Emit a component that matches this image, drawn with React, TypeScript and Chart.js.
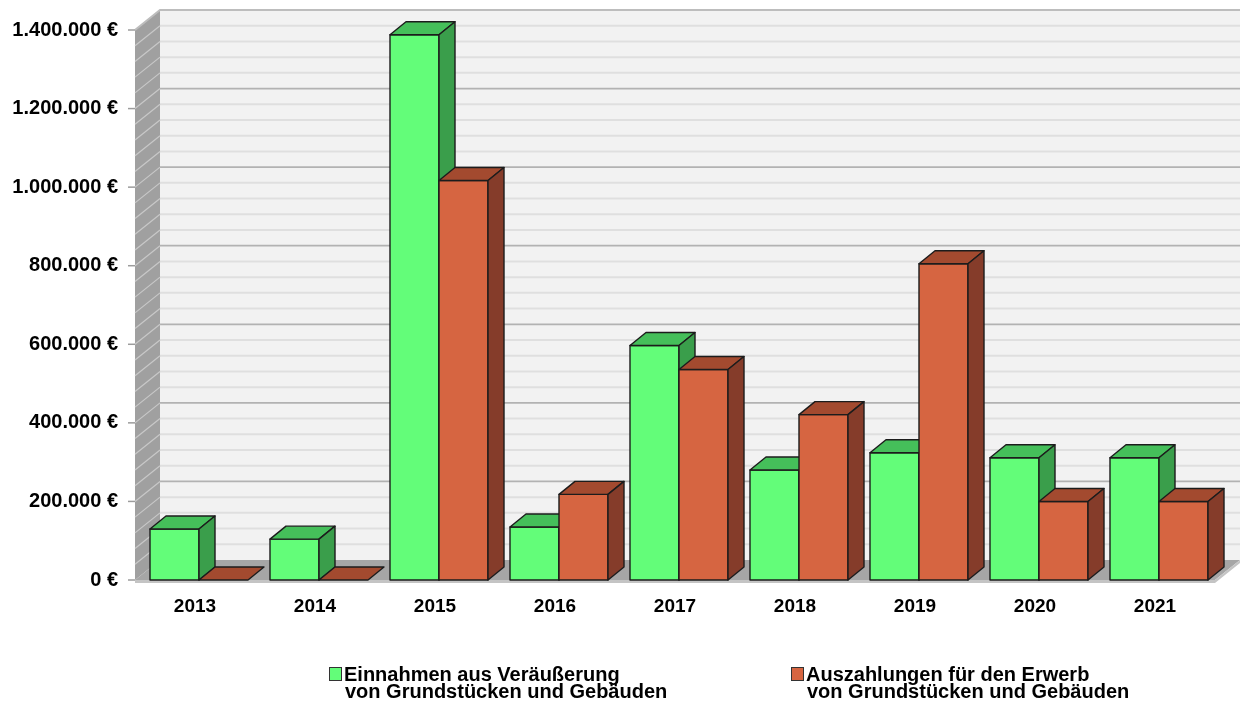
import { useEffect, useRef } from 'react';
import { Chart, registerables } from 'chart.js';

Chart.register(...registerables);

const YEARS = ['2013', '2014', '2015', '2016', '2017', '2018', '2019', '2020', '2021'];
const EINNAHMEN = [130000, 104000, 1388000, 135000, 597000, 280000, 324000, 311000, 311000];
const AUSZAHLUNGEN = [0, 0, 1017000, 218000, 536000, 421000, 805000, 200000, 200000];
const Y_MIN = 0;
const Y_MAX = 1400000;
const Y_STEP = 200000;
const MINOR_STEP = 40000;
const LEGEND_LABELS = [
  ['Einnahmen aus Veräußerung', 'von Grundstücken und Gebäuden'],
  ['Auszahlungen für den Erwerb', 'von Grundstücken und Gebäuden'],
];

const FONT = '"Liberation Sans", Arial, sans-serif';
const SERIES_STYLE = [
  { front: '#63fd79', top: '#45bf5a', side: '#3a9e4b' },
  { front: '#d66541', top: '#a34a2f', side: '#853c2a' },
];

const WALL_DX = 25;
const WALL_DY = -20;
const BAR_DX = 16;
const BAR_DY = -13;
const FRONT_SHIFT = 4;

function fmt(v: number): string {
  return String(Math.round(v)).replace(/\B(?=(\d{3})+(?!\d))/g, '.') + ' €';
}

const wallsPlugin = {
  id: 'walls3d',
  beforeDatasetsDraw(chart: any) {
    const { ctx, chartArea, scales } = chart;
    const ys = scales.y;
    const x0 = chartArea.left - FRONT_SHIFT;
    const x1 = chartArea.right - FRONT_SHIFT;
    const yb = ys.getPixelForValue(Y_MIN);
    const yt = ys.getPixelForValue(Y_MAX);
    ctx.save();
    ctx.fillStyle = '#f2f2f2';
    ctx.fillRect(x0 + WALL_DX, yt + WALL_DY, x1 - x0, yb - yt);
    for (let v = Y_MIN + MINOR_STEP; v < Y_MAX; v += MINOR_STEP) {
      const yy = ys.getPixelForValue(v);
      const major = v % Y_STEP === 0;
      ctx.beginPath();
      ctx.strokeStyle = major ? '#b2b2b2' : '#dfdfdf';
      ctx.lineWidth = major ? 1.8 : 2;
      ctx.moveTo(x0 + WALL_DX, yy + WALL_DY);
      ctx.lineTo(x1 + WALL_DX, yy + WALL_DY);
      ctx.stroke();
    }
    ctx.beginPath();
    ctx.moveTo(x0, yt);
    ctx.lineTo(x0 + WALL_DX, yt + WALL_DY);
    ctx.lineTo(x0 + WALL_DX, yb + WALL_DY);
    ctx.lineTo(x0, yb);
    ctx.closePath();
    ctx.fillStyle = '#a0a0a0';
    ctx.fill();
    ctx.strokeStyle = '#c8c8c8';
    ctx.lineWidth = 1.2;
    for (let v = Y_MIN + MINOR_STEP; v < Y_MAX; v += MINOR_STEP) {
      const yy = ys.getPixelForValue(v);
      ctx.beginPath();
      ctx.moveTo(x0, yy);
      ctx.lineTo(x0 + WALL_DX, yy + WALL_DY);
      ctx.stroke();
    }
    ctx.beginPath();
    ctx.strokeStyle = '#bdbdbd';
    ctx.lineWidth = 2;
    ctx.moveTo(x0, yt);
    ctx.lineTo(x0 + WALL_DX, yt + WALL_DY);
    ctx.lineTo(x1 + WALL_DX, yt + WALL_DY);
    ctx.stroke();
    ctx.beginPath();
    ctx.moveTo(x0, yb);
    ctx.lineTo(x0 + WALL_DX, yb + WALL_DY);
    ctx.lineTo(x1 + WALL_DX, yb + WALL_DY);
    ctx.lineTo(x1, yb);
    ctx.closePath();
    ctx.fillStyle = '#a6a6a6';
    ctx.fill();
    ctx.beginPath();
    ctx.moveTo(x0, yb);
    ctx.lineTo(x1, yb);
    ctx.lineTo(x1 + WALL_DX, yb + WALL_DY);
    ctx.lineTo(x1 + WALL_DX, yb + WALL_DY + 3);
    ctx.lineTo(x1, yb + 3);
    ctx.lineTo(x0, yb + 3);
    ctx.closePath();
    ctx.fillStyle = '#c4c4c4';
    ctx.fill();
    ctx.strokeStyle = '#9c9c9c';
    ctx.lineWidth = 1.5;
    for (let v = Y_MIN; v <= Y_MAX; v += Y_STEP) {
      const yy = ys.getPixelForValue(v);
      ctx.beginPath();
      ctx.moveTo(x0 - 7, yy);
      ctx.lineTo(x0, yy);
      ctx.stroke();
    }
    ctx.restore();
  },
};

const bars3dPlugin = {
  id: 'bars3d',
  afterDatasetsDraw(chart: any) {
    const { ctx } = chart;
    const metas = [chart.getDatasetMeta(0), chart.getDatasetMeta(1)];
    const n = metas[0].data.length;
    ctx.save();
    ctx.lineJoin = 'round';
    ctx.strokeStyle = '#1c1c1c';
    ctx.lineWidth = 1.4;
    for (let i = 0; i < n; i++) {
      for (let d = 0; d < metas.length; d++) {
        const el = metas[d].data[i];
        if (!el) continue;
        const { x, y, base, width } = el.getProps(['x', 'y', 'base', 'width'], true);
        const l = x - width / 2;
        const r = x + width / 2;
        const st = SERIES_STYLE[d];
        ctx.fillStyle = st.front;
        ctx.fillRect(l, y, r - l, base - y);
        if (base - y > 0.5) ctx.strokeRect(l, y, r - l, base - y);
        ctx.beginPath();
        ctx.moveTo(l, y);
        ctx.lineTo(l + BAR_DX, y + BAR_DY);
        ctx.lineTo(r + BAR_DX, y + BAR_DY);
        ctx.lineTo(r, y);
        ctx.closePath();
        ctx.fillStyle = st.top;
        ctx.fill();
        ctx.stroke();
        if (base - y > 0.5) {
          ctx.beginPath();
          ctx.moveTo(r, y);
          ctx.lineTo(r + BAR_DX, y + BAR_DY);
          ctx.lineTo(r + BAR_DX, base + BAR_DY);
          ctx.lineTo(r, base);
          ctx.closePath();
          ctx.fillStyle = st.side;
          ctx.fill();
          ctx.stroke();
        }
      }
    }
    ctx.restore();
  },
};

const legendPlugin = {
  id: 'legend2line',
  afterDraw(chart: any) {
    const { ctx } = chart;
    const positions = [329, 791];
    ctx.save();
    ctx.font = `bold 20px ${FONT}`;
    ctx.textBaseline = 'alphabetic';
    ctx.textAlign = 'left';
    LEGEND_LABELS.forEach((lines, i) => {
      const bx = positions[i];
      ctx.fillStyle = SERIES_STYLE[i].front;
      ctx.fillRect(bx, 667, 12, 13);
      ctx.strokeStyle = '#333333';
      ctx.lineWidth = 1;
      ctx.strokeRect(bx + 0.5, 667.5, 12, 13);
      ctx.fillStyle = '#000000';
      ctx.fillText(lines[0], bx + 15, 681);
      ctx.fillText(lines[1], bx + 16, 698);
    });
    ctx.restore();
  },
};

export default function App() {
  const ref = useRef<HTMLCanvasElement | null>(null);
  useEffect(() => {
    if (!ref.current) return;
    const chart = new Chart(ref.current, {
      type: 'bar',
      data: {
        labels: YEARS,
        datasets: [
          { label: LEGEND_LABELS[0].join(' '), data: EINNAHMEN, backgroundColor: 'rgba(0,0,0,0)', borderWidth: 0 },
          { label: LEGEND_LABELS[1].join(' '), data: AUSZAHLUNGEN, backgroundColor: 'rgba(0,0,0,0)', borderWidth: 0 },
        ],
      },
      options: {
        responsive: false,
        animation: false,
        events: [],
        layout: { padding: { left: 0, right: 23, top: 30, bottom: 84 } },
        datasets: { bar: { categoryPercentage: 0.8167, barPercentage: 1 } },
        plugins: { legend: { display: false }, tooltip: { enabled: false } },
        scales: {
          x: {
            grid: { display: false, drawTicks: false },
            border: { display: false },
            ticks: {
              color: '#000',
              font: { family: FONT, size: 19, weight: 'bold' },
              padding: 15,
              labelOffset: -FRONT_SHIFT,
              maxRotation: 0,
            },
            afterFit: (s: any) => { s.height = 40; },
          },
          y: {
            min: Y_MIN,
            max: Y_MAX,
            grid: { display: false, drawTicks: true, tickLength: 21 },
            border: { display: false },
            ticks: {
              stepSize: Y_STEP,
              color: '#000',
              font: { family: FONT, size: 20, weight: 'bold' },
              padding: 0,
              callback: (v: any) => fmt(Number(v)),
            },
            afterFit: (s: any) => { s.width = 139; },
          },
        },
      },
      plugins: [wallsPlugin, bars3dPlugin, legendPlugin],
    } as any);
    return () => chart.destroy();
  }, []);
  return (
    <div style={{ position: 'absolute', left: 0, top: 0, width: 1242, height: 704, background: '#fff' }}>
      <canvas ref={ref} width={1242} height={704} style={{ display: 'block' }} />
    </div>
  );
}
